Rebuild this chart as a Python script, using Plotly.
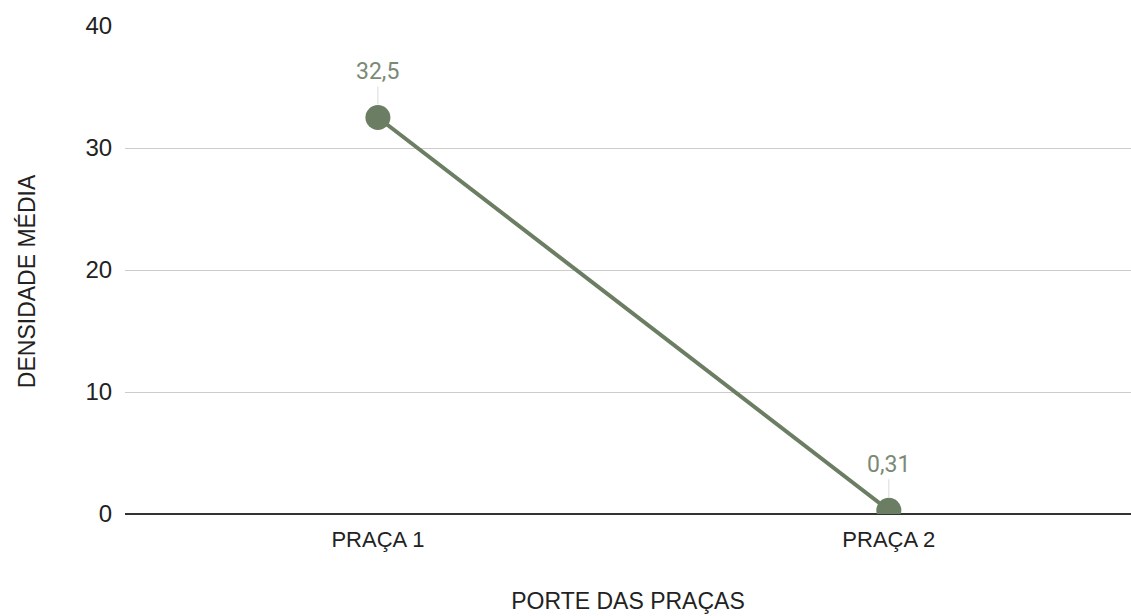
import plotly.graph_objects as go

categories = ["PRAÇA 1", "PRAÇA 2"]
densidade = [32.5, 0.31]
y_ticks = [0, 10, 20, 30, 40]

line_color = "#6b7d62"
label_color = "#7b8a74"
text_color = "#222222"
font_family = "Liberation Sans"

fig = go.Figure()
fig.add_trace(go.Scatter(
    x=list(range(len(categories))),
    y=densidade,
    mode="lines+markers",
    line=dict(color=line_color, width=4),
    marker=dict(color=line_color, size=25),
    cliponaxis=True,
    hoverinfo="skip",
    showlegend=False,
))

# value labels above each point, joined to it by a thin leader line
for i, v in enumerate(densidade):
    fig.add_annotation(
        x=i, y=v, xref="x", yref="y",
        text=f"{v:g}".replace(".", ","),
        showarrow=True, arrowhead=0, arrowwidth=1, arrowcolor="#d9d9d9",
        ax=0, ay=-46, standoff=13,
        font=dict(family="Roboto", size=23, color=label_color),
    )

# vertical axis title
fig.add_annotation(
    text="DENSIDADE MÉDIA", textangle=-90,
    xref="paper", yref="paper", x=-0.0975, y=0.477,
    xanchor="center", yanchor="middle", showarrow=False,
    font=dict(family=font_family, size=23, color=text_color),
)

fig.update_layout(
    width=1131, height=616,
    margin=dict(l=125, r=0, t=26, b=102),
    paper_bgcolor="white", plot_bgcolor="white",
    xaxis=dict(
        range=[-0.495, 1.474],
        tickmode="array", tickvals=list(range(len(categories))), ticktext=categories,
        showgrid=False, zeroline=False, showline=False,
        ticks="outside", ticklen=6, tickcolor="rgba(0,0,0,0)",
        tickfont=dict(family=font_family, size=22, color=text_color),
        title=dict(text="PORTE DAS PRAÇAS", standoff=41,
                   font=dict(family=font_family, size=23, color=text_color)),
    ),
    yaxis=dict(
        range=[0, 40],
        tickmode="array", tickvals=y_ticks,
        showgrid=True, gridcolor="#cccccc", gridwidth=1,
        zeroline=True, zerolinecolor="#333333", zerolinewidth=1.5,
        ticks="outside", ticklen=7, tickcolor="rgba(0,0,0,0)",
        tickfont=dict(family=font_family, size=24, color=text_color),
    ),
)

fig.write_html("out.html")
